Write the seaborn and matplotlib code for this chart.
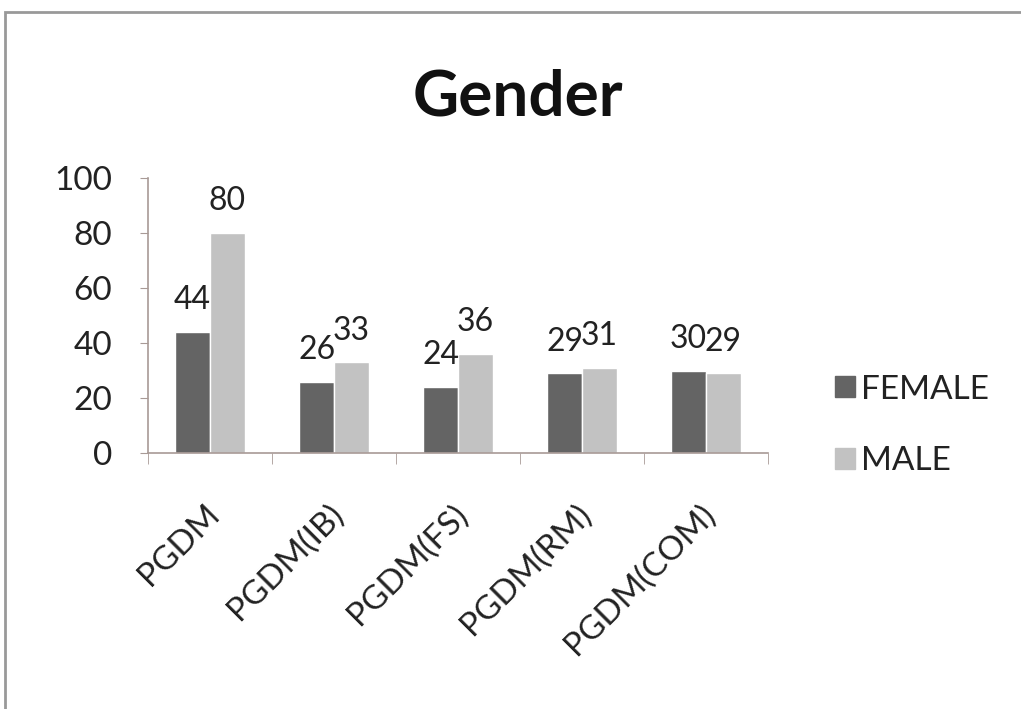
import pandas as pd
import matplotlib.pyplot as plt
import matplotlib.patches as mpatches
import matplotlib.transforms as mtransforms
import seaborn as sns

# Data
courses = ["PGDM", "PGDM(IB)", "PGDM(FS)", "PGDM(RM)", "PGDM(COM)"]
female = [44, 26, 24, 29, 30]
male = [80, 33, 36, 31, 29]

df = pd.DataFrame({
    "course": courses * 2,
    "gender": ["FEMALE"] * len(courses) + ["MALE"] * len(courses),
    "count": female + male,
})

sns.set_style("white")
plt.rcParams["font.family"] = ["Lato", "DejaVu Sans"]

colors = {"FEMALE": "#646464", "MALE": "#c2c2c2"}
axis_col = "#a89a96"
text_col = "#222222"

fig = plt.figure(figsize=(10.21, 7.09), dpi=100)
ax = fig.add_axes([0.145, 0.361, 0.607, 0.388])

sns.barplot(data=df, x="course", y="count", hue="gender", palette=colors,
            width=0.56, gap=0, saturation=1, ax=ax, legend=False)

# value labels above bars
for cont in ax.containers:
    ax.bar_label(cont, padding=12, fontsize=23, color=text_col)

ax.set_ylim(0, 100)
ax.set_xlim(-0.5, len(courses) - 0.5)
ax.set_yticks(range(0, 101, 20))
ax.set_xlabel("")
ax.set_ylabel("")
ax.tick_params(axis="y", labelsize=24, length=6, color=axis_col, direction="out",
               left=True, pad=20, labelcolor=text_col)
ax.tick_params(axis="x", labelsize=24, length=0, pad=33, labelcolor=text_col)
ax.set_xticks(range(len(courses)))
ax.set_xticklabels(courses, rotation=45, ha="right", rotation_mode="anchor")
shift = mtransforms.ScaledTranslation(-6 / 100, 0, fig.dpi_scale_trans)
for lbl in ax.get_xticklabels():
    lbl.set_transform(lbl.get_transform() + shift)
ax.set_xticks([i - 0.5 for i in range(len(courses) + 1)], minor=True)
ax.tick_params(axis="x", which="minor", length=8, color=axis_col, bottom=True)

for s in ["top", "right"]:
    ax.spines[s].set_visible(False)
for s in ["left", "bottom"]:
    ax.spines[s].set_color(axis_col)
    ax.spines[s].set_linewidth(1.2)

fig.suptitle("Gender", x=0.507, y=0.903, fontsize=46, fontweight="bold",
             color="#111111")

handles = [mpatches.Patch(color=colors[g], label=g) for g in ["FEMALE", "MALE"]]
fig.legend(handles=handles, loc="center left", bbox_to_anchor=(0.788, 0.40),
           frameon=False, fontsize=24, labelspacing=1.25, handlelength=0.6,
           handleheight=0.6, handletextpad=0.2, labelcolor=text_col)

# outer frame of the chart area
fig.patches.append(mpatches.Rectangle((5 / 1021, -0.05), 1.1, 1 - 12 / 709 + 0.05,
                                      transform=fig.transFigure, fill=False,
                                      edgecolor="#999999", linewidth=2))

fig.savefig("out.png", dpi=100)
